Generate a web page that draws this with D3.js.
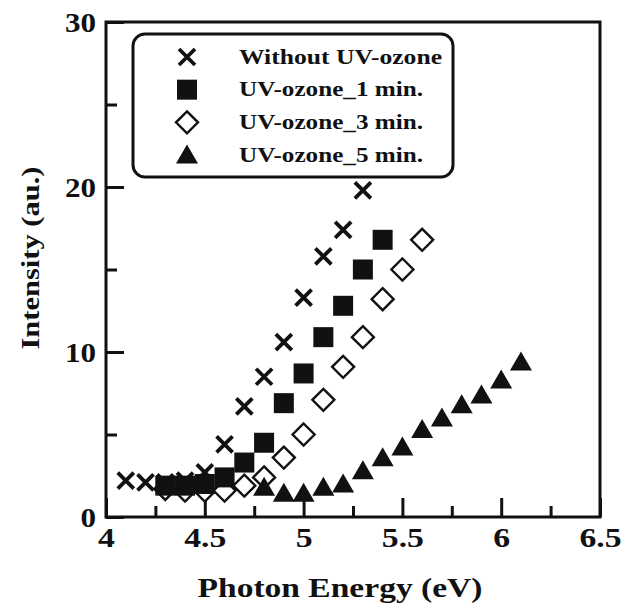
<!DOCTYPE html>
<html>
<head>
<meta charset="utf-8">
<script src="https://cdn.jsdelivr.net/npm/d3@7"></script>
<style>
  body { margin: 0; background: #fff; }
  svg text { font-family: "Liberation Serif", "Times New Roman", Tinos, Times, serif !important; font-weight: 700; fill: #111; }
</style>
</head>
<body>
<div id="chart"></div>
<script>
// photon energy (eV) and intensity (au.)
const energyNone = [4.1, 4.2, 4.3, 4.4, 4.5, 4.6, 4.7, 4.8, 4.9, 5.0, 5.1, 5.2, 5.3];
const intensityNone = [2.2, 2.1, 2.1, 2.2, 2.7, 4.4, 6.7, 8.5, 10.6, 13.3, 15.8, 17.4, 19.8];

const energy1 = [4.3, 4.4, 4.5, 4.6, 4.7, 4.8, 4.9, 5.0, 5.1, 5.2, 5.3, 5.4];
const intensity1 = [1.9, 1.9, 2.0, 2.4, 3.3, 4.5, 6.9, 8.7, 10.9, 12.8, 15.0, 16.8];

const energy3 = [4.3, 4.4, 4.5, 4.6, 4.7, 4.8, 4.9, 5.0, 5.1, 5.2, 5.3, 5.4, 5.5, 5.6];
const intensity3 = [1.7, 1.6, 1.6, 1.6, 1.9, 2.4, 3.6, 5.0, 7.1, 9.1, 10.9, 13.2, 15.0, 16.8];

const energy5 = [4.8, 4.9, 5.0, 5.1, 5.2, 5.3, 5.4, 5.5, 5.6, 5.7, 5.8, 5.9, 6.0, 6.1];
const intensity5 = [1.8, 1.45, 1.45, 1.8, 2.0, 2.8, 3.6, 4.25, 5.3, 6.0, 6.8, 7.4, 8.3, 9.4];

const legendLabels = ["Without UV-ozone", "UV-ozone_1 min.", "UV-ozone_3 min.", "UV-ozone_5 min."];
const xTicks = [4, 4.5, 5, 5.5, 6, 6.5];
const xMinorTicks = [4.25, 4.75, 5.25, 5.75, 6.25];
const yTicks = [0, 10, 20, 30];
const yMinorTicks = [5, 15, 25];

const W = 626, H = 609;
const plot = { left: 106, right: 600, top: 22, bottom: 517 };

const svg = d3.select("#chart").append("svg").attr("width", W).attr("height", H);

const x = d3.scaleLinear().domain([4, 6.5]).range([plot.left, plot.right]);
const y = d3.scaleLinear().domain([0, 30]).range([plot.bottom, plot.top]);

// stretch text horizontally (the figure is a bit wide)
function stretch(sel, factor) {
    sel.each(function() {
        const w = this.getComputedTextLength();
        d3.select(this).attr("textLength", w * factor).attr("lengthAdjust", "spacingAndGlyphs");
    });
}

// axes
const xAxis = svg.append("g").attr("transform", `translate(0,${plot.bottom})`)
    .call(d3.axisBottom(x).tickValues(xTicks).tickSize(-19).tickPadding(0).tickFormat(d3.format("")));
const xMinor = svg.append("g").attr("transform", `translate(0,${plot.bottom})`)
    .call(d3.axisBottom(x).tickValues(xMinorTicks).tickSize(-11).tickFormat(""));
const yAxis = svg.append("g").attr("transform", `translate(${plot.left},0)`)
    .call(d3.axisLeft(y).tickValues(yTicks).tickSize(-18).tickPadding(0).tickFormat(d3.format("")));
const yMinor = svg.append("g").attr("transform", `translate(${plot.left},0)`)
    .call(d3.axisLeft(y).tickValues(yMinorTicks).tickSize(-11).tickFormat(""));

[xAxis, xMinor, yAxis, yMinor].forEach(g => {
    g.attr("font-family", null).attr("font-size", null);
    g.select(".domain").remove();
    g.selectAll("line").attr("stroke", "#111").attr("stroke-width", 3);
});
xAxis.selectAll("text")
    .attr("y", 30).attr("dy", null).attr("fill", null)
    .style("font-size", "27px")
    .call(stretch, 1.25);
yAxis.selectAll("text")
    .attr("x", -10).attr("dy", "0.34em").attr("fill", null)
    .style("font-size", "27px")
    .call(stretch, 1.15);

// frame
svg.append("rect")
    .attr("x", plot.left).attr("y", plot.top)
    .attr("width", plot.right - plot.left).attr("height", plot.bottom - plot.top)
    .attr("fill", "none").attr("stroke", "#111").attr("stroke-width", 3);

// axis titles
svg.append("text")
    .attr("x", (plot.left + plot.right) / 2 - 13).attr("y", 597)
    .attr("text-anchor", "middle")
    .style("font-size", "28px")
    .text("Photon Energy (eV)")
    .attr("textLength", 285).attr("lengthAdjust", "spacingAndGlyphs");

svg.append("text")
    .attr("transform", "translate(39,258) rotate(-90)")
    .attr("text-anchor", "middle")
    .style("font-size", "26px")
    .text("Intensity (au.)")
    .attr("textLength", 183).attr("lengthAdjust", "spacingAndGlyphs");

// marker painters
const markers = {
    cross: (g, s) => {
        const h = 8 * s;
        g.append("path").attr("d", `M${-h},${-h}L${h},${h}M${-h},${h}L${h},${-h}`)
            .attr("stroke", "#111").attr("stroke-width", 3.8).attr("fill", "none");
    },
    square: (g, s) => {
        const h = 10 * s;
        g.append("rect").attr("x", -h).attr("y", -h).attr("width", 2 * h).attr("height", 2 * h).attr("fill", "#111");
    },
    diamond: (g, s) => {
        const h = 11 * s;
        g.append("path").attr("d", `M0,${-h}L${h},0L0,${h}L${-h},0Z`)
            .attr("fill", "#fff").attr("stroke", "#111").attr("stroke-width", 2.4);
    },
    triangle: (g, s) => {
        const w = 11 * s, h = 19 * s;
        g.append("path").attr("d", `M0,${-h * 0.55}L${w},${h * 0.45}L${-w},${h * 0.45}Z`).attr("fill", "#111");
    }
};

const series = [
    { xs: energyNone, ys: intensityNone, shape: "cross" },
    { xs: energy1, ys: intensity1, shape: "square" },
    { xs: energy3, ys: intensity3, shape: "diamond" },
    { xs: energy5, ys: intensity5, shape: "triangle" }
];

// draw in an order that keeps overlaps like the figure
const drawOrder = [0, 2, 3, 1];
drawOrder.forEach(i => {
    const s = series[i];
    const pts = s.xs.map((e, k) => [e, s.ys[k]]);
    svg.append("g").selectAll("g").data(pts).join("g")
        .attr("transform", d => `translate(${x(d[0])},${y(d[1])})`)
        .each(function() { markers[s.shape](d3.select(this), 1); });
});

// legend
const legend = svg.append("g");
legend.append("rect")
    .attr("x", 133).attr("y", 34)
    .attr("width", 320).attr("height", 143)
    .attr("rx", 12)
    .attr("fill", "#fff").attr("stroke", "#111").attr("stroke-width", 3);

const rowY = d3.scalePoint().domain(d3.range(legendLabels.length)).range([57, 155]);
legendLabels.forEach((lab, i) => {
    const g = legend.append("g").attr("transform", `translate(187,${rowY(i)})`);
    markers[series[i].shape](g, 1);
    legend.append("text")
        .attr("x", 239).attr("y", rowY(i)).attr("dy", "0.34em")
        .style("font-size", "20px")
        .text(lab)
        .attr("textLength", i === 0 ? 203 : 184).attr("lengthAdjust", "spacingAndGlyphs");
});
</script>
</body>
</html>
